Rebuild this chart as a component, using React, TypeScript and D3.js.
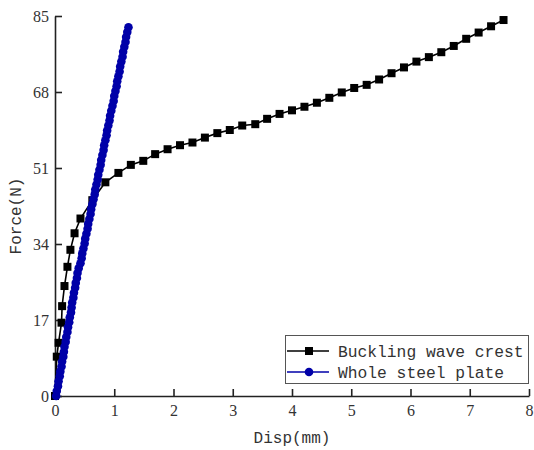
import React, { useRef, useEffect } from "react";
import * as d3 from "d3";

// Buckling wave crest (black squares)
const crestDisp = [0, 0.03, 0.06, 0.11, 0.12, 0.16, 0.21, 0.26, 0.33, 0.43, 0.63, 0.85, 1.07, 1.28, 1.49, 1.69, 1.9, 2.11, 2.32, 2.53, 2.74, 2.95, 3.16, 3.38, 3.58, 3.79, 4.0, 4.21, 4.42, 4.63, 4.84, 5.05, 5.26, 5.47, 5.68, 5.89, 6.1, 6.31, 6.52, 6.73, 6.94, 7.15, 7.36, 7.57];
const crestForce = [0, 8.8, 11.9, 16.4, 20.1, 24.6, 28.9, 32.7, 36.4, 39.7, 43.8, 47.8, 49.9, 51.7, 52.6, 54.1, 55.2, 56.1, 56.7, 57.8, 58.8, 59.5, 60.5, 60.8, 62.0, 63.1, 63.9, 64.7, 65.6, 66.7, 67.9, 68.9, 69.6, 70.8, 72.2, 73.5, 74.8, 75.8, 76.9, 78.3, 79.9, 81.3, 82.7, 84.1];

// Whole steel plate (blue circles)
const plateDisp = [0.02, 0.03, 0.05, 0.06, 0.08, 0.09, 0.11, 0.12, 0.14, 0.15, 0.16, 0.18, 0.19, 0.21, 0.22, 0.24, 0.25, 0.27, 0.28, 0.29, 0.31, 0.32, 0.34, 0.35, 0.37, 0.38, 0.4,
  0.43, 0.45, 0.46, 0.48, 0.5, 0.51, 0.53, 0.55, 0.56, 0.58, 0.6, 0.61, 0.63, 0.65, 0.67, 0.68, 0.7, 0.72, 0.73, 0.75, 0.77, 0.78, 0.8, 0.82, 0.83, 0.85, 0.87, 0.88, 0.9, 0.92, 0.93, 0.95, 0.97, 0.99, 1.0, 1.02, 1.04, 1.05, 1.07, 1.09, 1.1, 1.12, 1.14, 1.15, 1.17, 1.19, 1.2, 1.22, 1.24];
const plateForce = [0, 1.1, 2.2, 3.3, 4.4, 5.5, 6.6, 7.7, 8.8, 9.9, 11.0, 12.1, 13.2, 14.3, 15.4, 16.5, 17.6, 18.7, 19.8, 20.9, 22.0, 23.1, 24.2, 25.3, 26.4, 27.5, 28.6,
  29.7, 30.8, 31.9, 33.0, 34.1, 35.2, 36.3, 37.4, 38.5, 39.6, 40.7, 41.8, 42.9, 44.0, 45.1, 46.2, 47.3, 48.4, 49.5, 50.6, 51.7, 52.8, 53.9, 55.0, 56.1, 57.2, 58.3, 59.4, 60.5, 61.6, 62.7, 63.8, 64.9, 66.0, 67.1, 68.2, 69.3, 70.4, 71.5, 72.6, 73.7, 74.8, 75.9, 77.0, 78.1, 79.2, 80.3, 81.4, 82.5];

const xTicks = [0, 1, 2, 3, 4, 5, 6, 7, 8];
const yTicks = [0, 17, 34, 51, 68, 85];
const seriesNames = ["Buckling wave crest", "Whole steel plate"];

const BLUE = "#0000a8";
const MONO = "'Liberation Mono', 'DejaVu Sans Mono', monospace";
const SERIF = "'Liberation Serif', 'DejaVu Serif', serif";

export default function App() {
  const svgRef = useRef<SVGSVGElement>(null);

  useEffect(() => {
    const w = 534, h = 450;
    const m = { left: 55, right: 5, top: 16, bottom: 54 };
    const svg = d3.select(svgRef.current).attr("width", w).attr("height", h);
    svg.selectAll("*").remove();

    const x = d3.scaleLinear().domain([0, 8]).range([m.left, w - m.right]);
    const y = d3.scaleLinear().domain([0, 85]).range([h - m.bottom, m.top]);

    const crest = crestDisp.map((d, i) => [d, crestForce[i]] as [number, number]);
    const plate = plateDisp.map((d, i) => [d, plateForce[i]] as [number, number]);
    const line = d3.line<[number, number]>().x(d => x(d[0])).y(d => y(d[1]));

    // axes (ticks point inward)
    const xAxis = svg.append("g")
      .attr("transform", `translate(0,${h - m.bottom})`)
      .call(d3.axisBottom(x).tickValues(xTicks).tickSize(-7).tickSizeOuter(0).tickPadding(9));
    const yAxis = svg.append("g")
      .attr("transform", `translate(${m.left},0)`)
      .call(d3.axisLeft(y).tickValues(yTicks).tickSize(-7).tickSizeOuter(0).tickPadding(6));
    [xAxis, yAxis].forEach(g => {
      g.selectAll("path, line").attr("stroke", "#222").attr("stroke-width", 1.6);
      g.selectAll("text").attr("font-family", SERIF).attr("font-size", 16).attr("fill", "#333");
    });

    // black series
    svg.append("path").datum(crest)
      .attr("d", line).attr("fill", "none").attr("stroke", "#000").attr("stroke-width", 1.6);
    svg.append("g").selectAll("rect").data(crest).join("rect")
      .attr("x", d => x(d[0]) - 4).attr("y", d => y(d[1]) - 4)
      .attr("width", 8).attr("height", 8).attr("fill", "#000");

    // blue series
    svg.append("path").datum(plate)
      .attr("d", line).attr("fill", "none").attr("stroke", BLUE).attr("stroke-width", 1.6);
    svg.append("g").selectAll("circle").data(plate).join("circle")
      .attr("cx", d => x(d[0])).attr("cy", d => y(d[1])).attr("r", 4.3).attr("fill", BLUE);

    // axis titles
    svg.append("text").attr("x", (m.left + w - m.right) / 2).attr("y", 443)
      .attr("text-anchor", "middle").attr("font-family", MONO).attr("font-size", 16)
      .attr("fill", "#333").text("Disp(mm)");
    svg.append("text").attr("transform", `translate(21,${(m.top + h - m.bottom) / 2 + 10}) rotate(-90)`)
      .attr("text-anchor", "middle").attr("font-family", MONO).attr("font-size", 16)
      .attr("fill", "#333").text("Force(N)");

    // legend
    const lg = svg.append("g");
    lg.append("rect").attr("x", 285.5).attr("y", 335.5).attr("width", 243).attr("height", 48)
      .attr("fill", "#fff").attr("stroke", "#555").attr("stroke-width", 1);
    const rows = [351, 372];
    seriesNames.forEach((name, i) => {
      const col = i === 0 ? "#000" : BLUE;
      lg.append("line").attr("x1", 287).attr("x2", 329).attr("y1", rows[i]).attr("y2", rows[i])
        .attr("stroke", col).attr("stroke-width", 1.6);
      if (i === 0) {
        lg.append("rect").attr("x", 305).attr("y", rows[i] - 4).attr("width", 8).attr("height", 8).attr("fill", col);
      } else {
        lg.append("circle").attr("cx", 309).attr("cy", rows[i]).attr("r", 4.3).attr("fill", col);
      }
      lg.append("text").attr("x", 338).attr("y", rows[i] + 5.5)
        .attr("font-family", MONO).attr("font-size", 16.3).attr("fill", "#333").text(name);
    });
  }, []);

  return (
    <div style={{ position: "absolute", left: 0, top: 0 }}>
      <svg ref={svgRef}></svg>
    </div>
  );
}
